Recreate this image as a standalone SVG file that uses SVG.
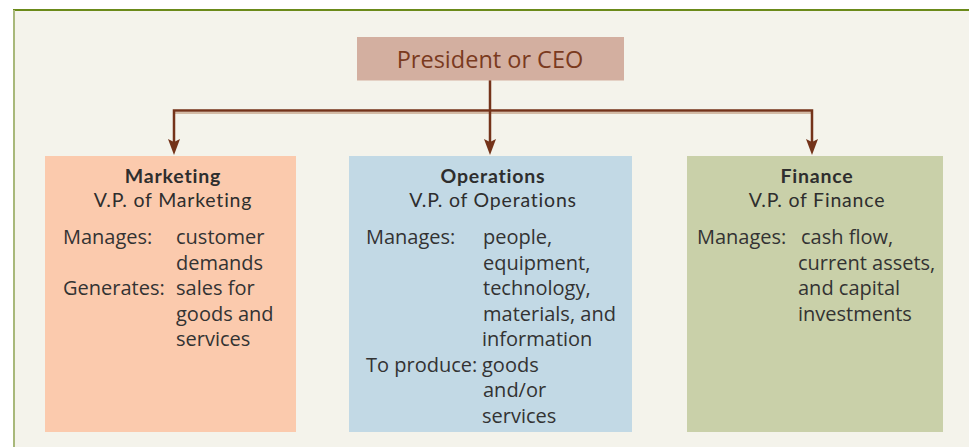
<svg xmlns="http://www.w3.org/2000/svg" width="969" height="447" viewBox="0 0 969 447">
<style>
.hd{font-family:Lato,"Open Sans",sans-serif;font-size:19.5px;letter-spacing:0.8px;fill:#2e2e2e;text-anchor:middle}
.b{font-weight:bold}
.tx{font-family:"Open Sans","Noto Sans",sans-serif;font-size:20px;fill:#333333}
.ln{fill:none;stroke:#74331a;stroke-width:2.5}
.ar{fill:#74331a}
</style>
<rect x="0" y="0" width="969" height="447" fill="#ffffff"/>
<rect x="13" y="10" width="960" height="445" fill="#f4f3eb"/>
<line x1="13" y1="10" x2="969" y2="10" stroke="#6b8a1a" stroke-width="2"/>
<line x1="14" y1="10" x2="14" y2="447" stroke="#a8b87a" stroke-width="2"/>

<g id="connectors">
<path d="M174,113 H812" fill="none" stroke="#c9a98f" stroke-width="1.5"/>
<path class="ln" d="M490,80 V145"/>
<path class="ln" d="M174,145 V110.5 H812 V145"/>
<path class="ar" d="M168,139 L174,142 L180,139 L174,155 Z"/>
<path class="ar" d="M484,139 L490,142 L496,139 L490,155 Z"/>
<path class="ar" d="M806,139 L812,142 L818,139 L812,155 Z"/>
</g>

<g id="ceo">
<rect x="357" y="37" width="267" height="43.5" fill="#d3afa0"/>
<text x="490" y="68" font-family="'Open Sans','Noto Sans',sans-serif" font-size="23.5px" fill="#7a3a1e" text-anchor="middle">President or CEO</text>
</g>

<g id="marketing">
<rect x="45" y="156" width="251" height="276" fill="#fbcaad"/>
<text class="hd b" x="173" y="183">Marketing</text>
<text class="hd" x="173" y="207">V.P. of Marketing</text>
<text class="tx" x="63" y="244">Manages:</text>
<text class="tx" x="176" y="244">customer</text>
<text class="tx" x="176" y="269.5">demands</text>
<text class="tx" x="63" y="295">Generates:</text>
<text class="tx" x="176" y="295">sales for</text>
<text class="tx" x="176" y="320.5">goods and</text>
<text class="tx" x="176" y="346">services</text>
</g>

<g id="operations">
<rect x="349" y="156" width="283" height="276" fill="#c2d9e5"/>
<text class="hd b" x="493" y="183">Operations</text>
<text class="hd" x="493" y="207">V.P. of Operations</text>
<text class="tx" x="366" y="244">Manages:</text>
<text class="tx" x="483" y="244">people,</text>
<text class="tx" x="483" y="269.5">equipment,</text>
<text class="tx" x="483" y="295">technology,</text>
<text class="tx" x="483" y="320.5">materials, and</text>
<text class="tx" x="482" y="346">information</text>
<text class="tx" x="366" y="371.5">To produce:</text>
<text class="tx" x="482" y="371.5">goods</text>
<text class="tx" x="483" y="397">and/or</text>
<text class="tx" x="482" y="422.5">services</text>
</g>

<g id="finance">
<rect x="687" y="156" width="256" height="276" fill="#c9d0a9"/>
<text class="hd b" x="817" y="183">Finance</text>
<text class="hd" x="817" y="207">V.P. of Finance</text>
<text class="tx" x="697" y="244">Manages:</text>
<text class="tx" x="801" y="244">cash flow,</text>
<text class="tx" x="798" y="269.5">current assets,</text>
<text class="tx" x="798" y="295">and capital</text>
<text class="tx" x="798" y="320.5">investments</text>
</g>
</svg>
